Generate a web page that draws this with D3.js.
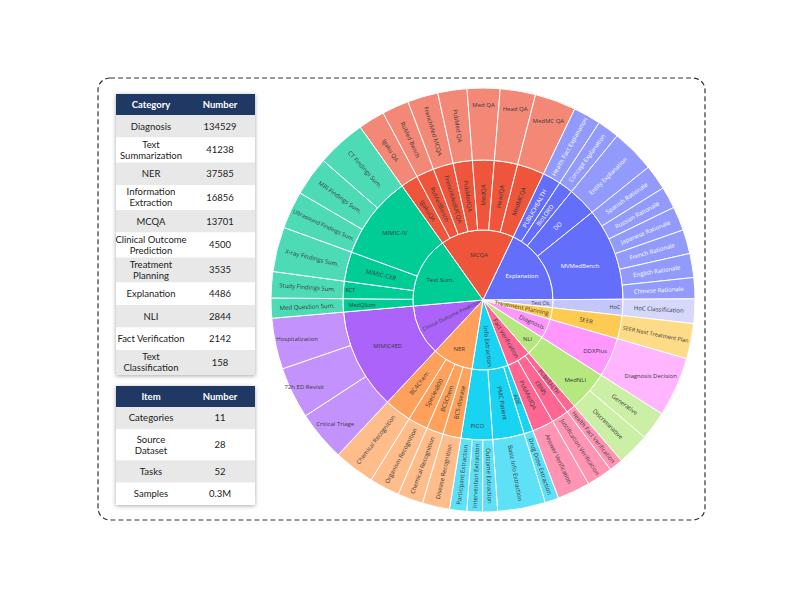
<!DOCTYPE html>
<html><head><meta charset="utf-8">
<script src="https://cdn.jsdelivr.net/npm/d3@7"></script>
<style>body{margin:0;background:#fff;} svg{display:block;}</style>
</head><body>
<svg id="c" width="800" height="600"></svg>
<script>
// ---------------- DATA ----------------
const categories = ["MCQA","Explanation","Text Cls.","Treatment Planning","Diagnosis","NLI","Fact Verification","Info Extraction","NER","Clinical Outcome Prediction","Text Sum."];
const categoryColors = ["#EF553B","#636EFA","#C3C7F8","#FECB52","#FF97FF","#B6E880","#FF6692","#19D3F3","#FFA15A","#AB63FA","#00CC96"];

const taskCategories = [
 "MCQA","MCQA","MCQA","MCQA","MCQA","MCQA","MCQA",
 "Explanation","Explanation","Explanation","Explanation","Explanation","Explanation","Explanation","Explanation","Explanation",
 "Text Cls.","Treatment Planning","Diagnosis","NLI","NLI",
 "Fact Verification","Fact Verification","Fact Verification",
 "Info Extraction","Info Extraction","Info Extraction","Info Extraction","Info Extraction",
 "NER","NER","NER","NER",
 "Clinical Outcome Prediction","Clinical Outcome Prediction","Clinical Outcome Prediction",
 "Text Sum.","Text Sum.","Text Sum.","Text Sum.","Text Sum.","Text Sum."];
const taskDatasets = [
 "IgakuQA","RuMedBench","FrenchMedMCQA","PubMedQA","MedQA","HeadQA","MedMCQA",
 "PUBLICHEALTH","BioLORD","DO","MVMedBench","MVMedBench","MVMedBench","MVMedBench","MVMedBench","MVMedBench",
 "HoC","SEER","DDXPlus","MedNLI","MedNLI",
 "PUBHEALTH","EBMS","PubMedQA",
 "ADE","PMC Patient","PICO","PICO","PICO",
 "BC5-disease","BC5Chem","Species800","BC4Chem",
 "MIMIC4ED","MIMIC4ED","MIMIC4ED",
 "MedQSum","RCT","MIMIC-CXR","MIMIC-IV","MIMIC-IV","MIMIC-IV"];
const taskNames = [
 "Igaku QA","RuMed Bench","FrenchMed MCQA","PubMed QA","Med QA","Head QA","MedMC QA",
 "Health Fact Explanation","Concept Explanation","Entity Explanation","Spanish Rationale","Russian Rationale","Japanese Rationale","French Rationale","English Rationale","Chinese Rationale",
 "HoC Classification","SEER Next Treatment Plan","Diagnosis Decision","Generative","Discriminative",
 "Health Fact Verification","Justification Verification","Answer Verification",
 "Drug Dose Extraction","Basic Info Extraction","Outcome Extraction","Intervention Extraction","Participant Extraction",
 "Disease Recognition","Chemical Recognition","Organism Recognition","Chemical Recognition",
 "Critical Triage","72h ED Revisit","Hospitalization",
 "Med Question Sum.","Study Findings Sum.","X-ray Findings Sum.","Ultrasound Findings Sum.","MRI Findings Sum.","CT Findings Sum."];
const taskValues = [
 7.3,7.4,8.4,8.0,9.0,9.7,11.3,
 7.6,6.0,12.0,6.9,6.0,6.6,6.6,6.6,5.8,
 6.7,9.7,16.4,7.9,8.9,
 3.8,7.1,9.0,
 3.8,13.1,4.1,4.3,4.7,
 7.5,7.0,8.3,11.2,
 13.8,14.2,14.0,
 5.5,7.2,12.3,10.3,10.8,13.5];

const tableHeaders = ["Category","Number"];
const tableCategories = ["Diagnosis","Text\nSummarization","NER","Information\nExtraction","MCQA","Clinical Outcome\nPrediction","Treatment\nPlanning","Explanation","NLI","Fact Verification","Text\nClassification"];
const tableNumbers = ["134529","41238","37585","16856","13701","4500","3535","4486","2844","2142","158"];
const itemHeaders = ["Item","Number"];
const itemNames = ["Categories","Source\nDataset","Tasks","Samples"];
const itemNumbers = ["11","28","52","0.3M"];

// ---------------- STYLE / LAYOUT ----------------
const FONT = "'Open Sans', sans-serif";
const TFONT = "Lato, 'Open Sans', sans-serif";
const cx = 483, cy = 300;
const ringR = [0, 70, 140, 212];
const offset = -35.4 * Math.PI / 180;
const horizontal = new Set(["MCQA","Explanation","Text Sum.","NER","NLI","Text Cls.",
  "MIMIC-IV","RCT","MedQSum","MVMedBench","HoC","DDXPlus","MedNLI","MIMIC4ED","PICO",
  "Med QA","Head QA","MedMC QA","Hospitalization","72h ED Revisit","Critical Triage","Diagnosis Decision"]);
const labelR = {"MCQA":45,"Explanation":46,"Text Sum.":47,"NER":54,"NLI":59,"Text Cls.":58,
  "MIMIC-IV":111,"RCT":133,"MedQSum":121,"MVMedBench":103,"HoC":132,"DDXPlus":123,"MedNLI":122,"MIMIC4ED":106,"PICO":126,
  "Med QA":195,"Head QA":194,"MedMC QA":191,"Hospitalization":190,"72h ED Revisit":199,"Critical Triage":193,"Diagnosis Decision":184};
const fontOverride = {"Text Cls.":4.8, "RCT":5.5, "MedQSum":5.5, "HoC":5.5};

const svg = d3.select("#c");
const defs = svg.append("defs");
const flt = defs.append("filter").attr("id","sh").attr("x","-10%").attr("y","-10%").attr("width","120%").attr("height","120%");
flt.append("feDropShadow").attr("dx",0).attr("dy",1).attr("stdDeviation",2).attr("flood-color","#000").attr("flood-opacity",0.35);

// dashed frame
svg.append("rect").attr("x",98).attr("y",78).attr("width",607).attr("height",442).attr("rx",12)
  .attr("fill","none").attr("stroke","#333").attr("stroke-width",1.2).attr("stroke-dasharray","5,3");

// ---------------- TABLES ----------------
function drawTable(x, y, headers, labels, values, hdrH, h1, h2) {
  const w = 139, c1 = 35, c2 = 104;
  const g = svg.append("g").attr("transform", `translate(${x},${y})`);
  const heights = labels.map(l => l.includes("\n") ? h2 : h1);
  const total = hdrH + d3.sum(heights);
  g.append("rect").attr("width", w).attr("height", total).attr("fill","#fff").attr("filter","url(#sh)");
  g.append("rect").attr("width", w).attr("height", hdrH).attr("fill","#1F3864");
  headers.forEach((h,i) => g.append("text").attr("x", i ? c2 : c1).attr("y", hdrH/2).attr("dy","0.35em")
    .attr("text-anchor","middle").attr("font-family",TFONT).attr("font-weight","bold").attr("font-size",9.5)
    .attr("fill","#fff").text(h));
  let yy = hdrH;
  labels.forEach((l,i) => {
    const h = heights[i];
    g.append("rect").attr("y", yy).attr("width", w).attr("height", h).attr("fill", i % 2 === 0 ? "#E8E8E8" : "#FFFFFF");
    const lines = l.split("\n");
    const t = g.append("text").attr("text-anchor","middle").attr("font-family",TFONT).attr("font-size",9.5).attr("fill","#222");
    lines.forEach((ln,k) => t.append("tspan").attr("x", c1).attr("y", yy + h/2 + (k - (lines.length-1)/2)*11).attr("dy","0.35em").text(ln));
    g.append("text").attr("x", c2).attr("y", yy + h/2).attr("dy","0.35em").attr("text-anchor","middle")
      .attr("font-family",TFONT).attr("font-size",9.5).attr("fill","#222").text(values[i]);
    yy += h;
  });
}
drawTable(116, 94, tableHeaders, tableCategories, tableNumbers, 21, 22.5, 25);
drawTable(116, 386, itemHeaders, itemNames, itemNumbers, 21, 22.3, 31);

// ---------------- SUNBURST ----------------
const rows = taskNames.map((t,i) => ({task:t, ds:taskDatasets[i], cat:taskCategories[i], v:taskValues[i]}));
rows.sort((a,b) => categories.indexOf(a.cat) - categories.indexOf(b.cat));
const grouped = d3.group(rows, d => d.cat, d => d.ds);
const root = d3.hierarchy(grouped).sum(d => d.v);
d3.partition().size([2*Math.PI, 4])(root);

const nodeName = d => d.depth === 3 ? d.data.task : d.data[0];
const catOf = d => { let n = d; while (n.depth > 1) n = n.parent; return n.data[0]; };
const baseColor = d => categoryColors[categories.indexOf(catOf(d))];
const fillOf = d => d.depth === 3 ? d3.interpolateRgb(baseColor(d), "#fff")(0.3) : baseColor(d);

const arc = d3.arc()
  .startAngle(d => d.x0 + offset).endAngle(d => d.x1 + offset)
  .innerRadius(d => ringR[d.depth-1]).outerRadius(d => ringR[d.depth]);

const nodes = root.descendants().filter(d => d.depth > 0);
const sg = svg.append("g").attr("transform", `translate(${cx},${cy})`);
sg.selectAll("path").data(nodes).join("path")
  .attr("d", arc).attr("fill", fillOf).attr("stroke","#fff").attr("stroke-width",1);

const measure = svg.append("text").attr("font-family", FONT).attr("font-size", 10).attr("visibility","hidden");
function textW(s){ measure.text(s); return measure.node().getComputedTextLength(); }

nodes.forEach(d => {
  const name = nodeName(d);
  const a0 = d.x0 + offset, a1 = d.x1 + offset, am = (a0+a1)/2, dth = a1 - a0;
  const deg = ((am*180/Math.PI) % 360 + 360) % 360;
  const rin = ringR[d.depth-1], rout = ringR[d.depth];
  const w10 = textW(name);
  let f, r, rot;
  if (horizontal.has(name)) {
    f = fontOverride[name] || 6;
    r = labelR[name] !== undefined ? labelR[name] : (rin+rout)/2;
    rot = 0;
  } else {
    rot = deg < 180 ? deg - 90 : deg - 270;
    const maxLen = rout - rin - 5;
    f = Math.min(6, 10*maxLen/w10);
    if (d.depth === 1) {
      for (let k=0;k<4;k++){
        const len = w10*f/10;
        r = rout - 3 - len/2;
        f = Math.min(f, r*dth*0.9);
      }
    } else {
      r = (rin+rout)/2;
      for (let k=0;k<4;k++){
        const len = w10*f/10;
        f = Math.min(f, (r - len/2)*dth*0.9);
      }
    }
  }
  const x = r*Math.sin(am), y = -r*Math.cos(am);
  sg.append("text").attr("transform", `translate(${x},${y}) rotate(${rot})`)
    .attr("text-anchor","middle").attr("dy","0.35em")
    .attr("font-family", FONT).attr("font-size", f.toFixed(2))
    .attr("fill", catOf(d) === "Explanation" ? "#fff" : "#3a3a3a")
    .text(name);
});
measure.remove();
</script>
</body></html>
